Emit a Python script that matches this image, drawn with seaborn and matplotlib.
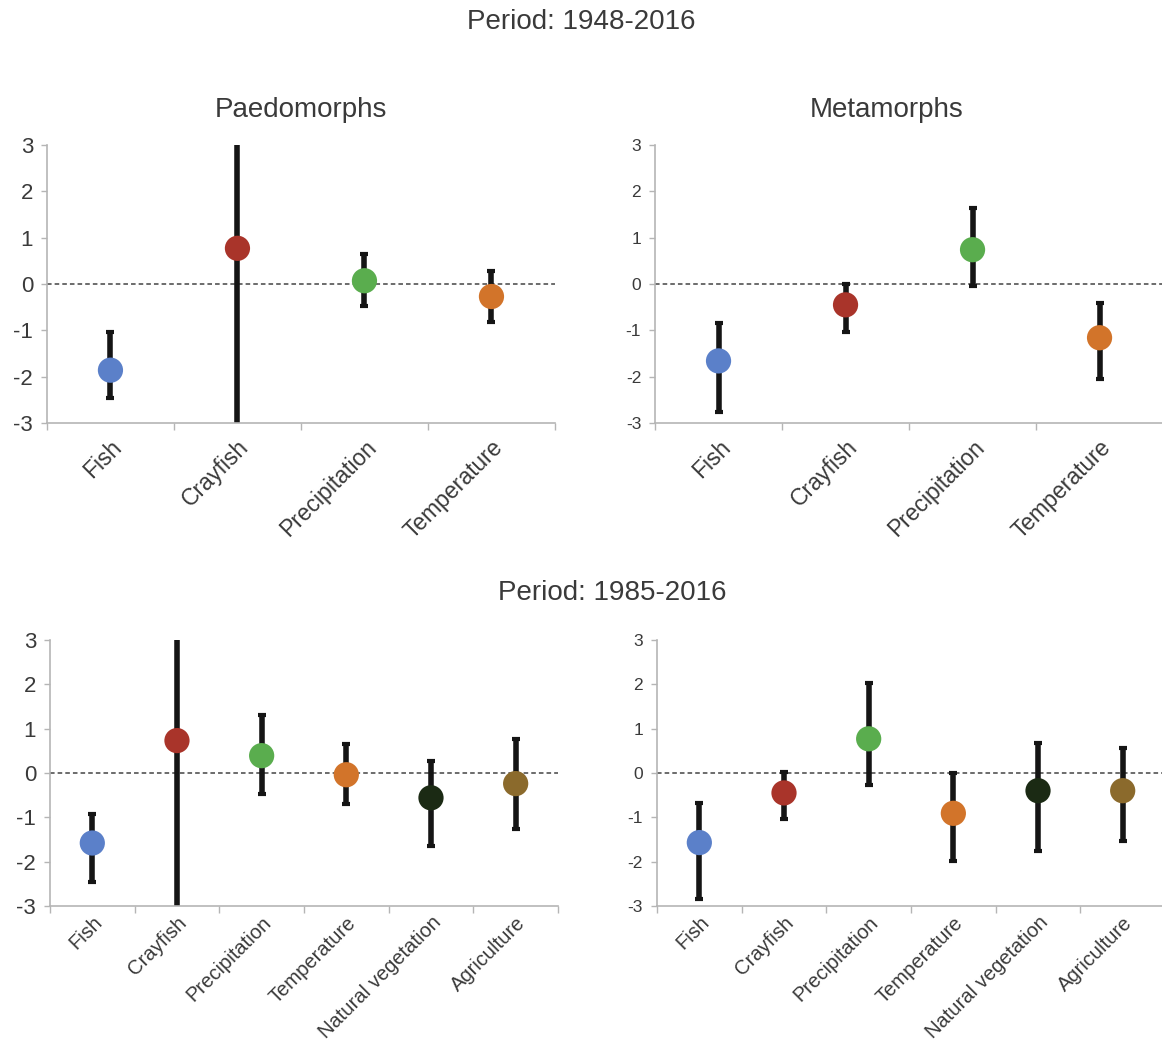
import numpy as np
import pandas as pd
import matplotlib.pyplot as plt
import seaborn as sns

# categories
cats4 = ['Fish', 'Crayfish', 'Precipitation', 'Temperature']
cats6 = ['Fish', 'Crayfish', 'Precipitation', 'Temperature', 'Natural vegetation', 'Agriculture']

# point colours per category
colors = ['#5b80c9', '#a9342a', '#5aad4e', '#d2742a', '#1b2a14', '#8b6a2c']

# Period 1948-2016, paedomorphs
paedo_48_est = [-1.86, 0.77, 0.07, -0.27]
paedo_48_lo = [-2.47, -3.6, -0.47, -0.81]
paedo_48_hi = [-1.03, 3.6, 0.65, 0.27]

# Period 1948-2016, metamorphs
meta_48_est = [-1.66, -0.45, 0.74, -1.16]
meta_48_lo = [-2.76, -1.03, -0.04, -2.06]
meta_48_hi = [-0.84, 0.0, 1.63, -0.40]

# Period 1985-2016, paedomorphs
paedo_85_est = [-1.58, 0.73, 0.39, -0.04, -0.56, -0.24]
paedo_85_lo = [-2.46, -3.6, -0.48, -0.70, -1.64, -1.26]
paedo_85_hi = [-0.92, 3.6, 1.30, 0.66, 0.28, 0.77]

# Period 1985-2016, metamorphs
meta_85_est = [-1.57, -0.45, 0.77, -0.91, -0.40, -0.40]
meta_85_lo = [-2.84, -1.04, -0.28, -1.98, -1.77, -1.53]
meta_85_hi = [-0.67, 0.02, 2.02, 0.0, 0.68, 0.57]

sns.set_theme(style='white')
plt.rcParams['font.family'] = ['Liberation Sans', 'DejaVu Sans']
plt.rcParams['axes.unicode_minus'] = False
TXT = '#3a3a3a'
SPINE = '#b5b5b5'


def draw_panel(ax, cats, est, lo, hi, ytick_size, xtick_size, xpad):
    df = pd.DataFrame({'Category': cats, 'Estimate': est, 'Low': lo, 'High': hi})
    pos = np.arange(len(cats))
    ax.axhline(0, color='#444444', ls=(0, (3, 2)), lw=1.1, zorder=1)
    ax.errorbar(pos, df['Estimate'],
                yerr=[df['Estimate'] - df['Low'], df['High'] - df['Estimate']],
                fmt='none', ecolor='#151515', elinewidth=4, capsize=3, capthick=3, zorder=2)
    sns.scatterplot(data=df, x='Category', y='Estimate', hue='Category',
                    palette=colors[:len(cats)], s=330, edgecolor='none',
                    legend=False, zorder=3, ax=ax)
    ax.set_xlim(-0.5, len(cats) - 0.5)
    ax.set_ylim(-3, 3)
    ax.set_yticks([-3, -2, -1, 0, 1, 2, 3])
    ax.set_xticks(pos)
    ax.set_xticklabels(cats, rotation=45, ha='right', rotation_mode='anchor',
                       fontsize=xtick_size, color=TXT)
    ax.set_xticks(np.arange(len(cats) + 1) - 0.5, minor=True)
    ax.tick_params(axis='x', which='major', length=0, pad=xpad)
    ax.tick_params(axis='x', which='minor', length=5, color=SPINE, width=1, bottom=True)
    ax.tick_params(axis='y', length=4, color=SPINE, width=1, left=True,
                   labelsize=ytick_size, labelcolor=TXT, pad=6)
    ax.set_xlabel('')
    ax.set_ylabel('')
    for side in ['top', 'right']:
        ax.spines[side].set_visible(False)
    for side in ['left', 'bottom']:
        ax.spines[side].set_color(SPINE)
        ax.spines[side].set_linewidth(1.2)


fig = plt.figure(figsize=(11.62, 10.52), dpi=100)
ax1 = fig.add_axes([0.0404, 0.5979, 0.4372, 0.2643])
ax2 = fig.add_axes([0.5637, 0.5979, 0.4372, 0.2643])
ax3 = fig.add_axes([0.0430, 0.1388, 0.4372, 0.2529])
ax4 = fig.add_axes([0.5654, 0.1388, 0.4372, 0.2529])

draw_panel(ax1, cats4, paedo_48_est, paedo_48_lo, paedo_48_hi, 16, 16.5, 9)
draw_panel(ax2, cats4, meta_48_est, meta_48_lo, meta_48_hi, 12.5, 16.5, 9)
draw_panel(ax3, cats6, paedo_85_est, paedo_85_lo, paedo_85_hi, 16, 14.5, 5)
draw_panel(ax4, cats6, meta_85_est, meta_85_lo, meta_85_hi, 12.5, 14.5, 5)

fig.text(0.5, 0.979, 'Period: 1948-2016', ha='center', va='center', fontsize=20, color=TXT)
fig.text(0.259, 0.895, 'Paedomorphs', ha='center', va='center', fontsize=20, color=TXT)
fig.text(0.763, 0.895, 'Metamorphs', ha='center', va='center', fontsize=20, color=TXT)
fig.text(0.527, 0.436, 'Period: 1985-2016', ha='center', va='center', fontsize=20, color=TXT)

fig.savefig('out.png', dpi=100, facecolor='white')
